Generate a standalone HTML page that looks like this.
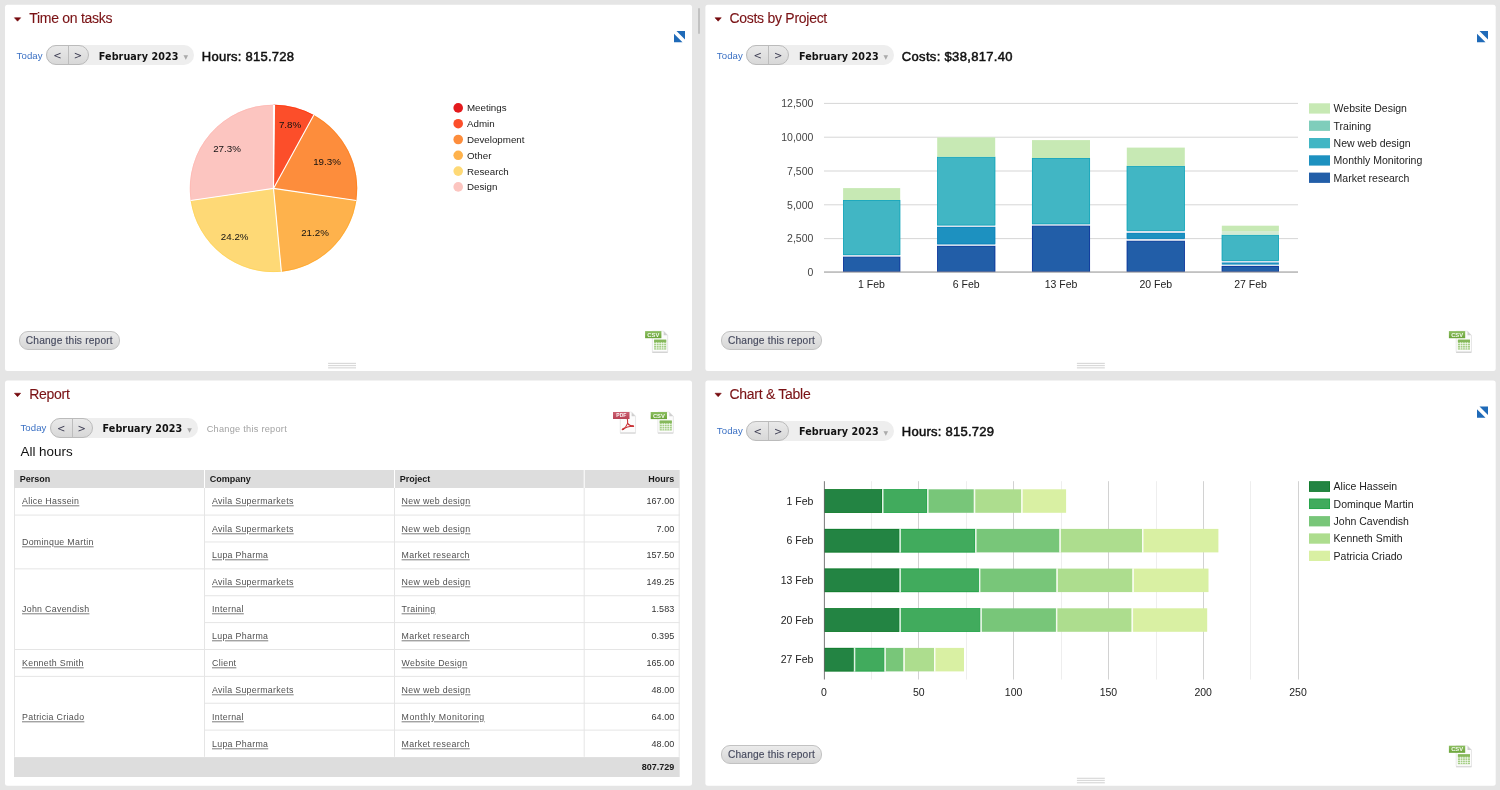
<!DOCTYPE html>
<html lang="en"><head><meta charset="utf-8"><title>Dashboard</title>
<style>
*{box-sizing:border-box}
html,body{margin:0;padding:0}
body{width:1500px;height:790px;overflow:hidden;background:#e5e5e5;font-family:"Liberation Sans",Arial,sans-serif;position:relative;color:#222}
.panel{position:absolute;background:#fff;border-radius:2.5px}
.ttl{position:absolute;color:#7a1215;font-size:14px;line-height:16px;white-space:nowrap;letter-spacing:-0.27px;-webkit-text-stroke:0.12px #7a1215}
.today{position:absolute;color:#3a70c4;font-size:9.6px;line-height:12px;letter-spacing:0.1px;white-space:nowrap}
.pill{position:absolute;height:20.2px;background:#eeeeee;border-radius:10.1px;width:148px}
.seg{position:absolute;display:flex;justify-content:space-between;width:43px;height:20px;border:1px solid #bbbbbb;border-radius:10px;background:linear-gradient(#e9e9e9,#d8d8d8);overflow:hidden}
.sb{position:relative;top:1.2px;width:20.5px;height:18px;text-align:center;font-size:10px;line-height:18.5px;color:#3c3c52;font-family:"DejaVu Sans","Liberation Sans",sans-serif}
.dv{position:absolute;left:20.5px;top:0;width:1px;height:18px;background:#bdbdbd}
.month{position:absolute;font-family:"DejaVu Sans","Liberation Sans",sans-serif;font-weight:bold;font-size:9.6px;color:#111;line-height:13px;letter-spacing:0.08px;white-space:nowrap}
.dd{position:absolute;font-size:6px;line-height:6px;color:#aaa;font-family:"DejaVu Sans",sans-serif}
.tot{position:absolute;font-size:13px;color:#111;white-space:nowrap;line-height:16px;-webkit-text-stroke:0.5px #111;letter-spacing:0.26px}
.btn{position:absolute;width:100.6px;height:19.4px;border:1px solid #c2c2c2;border-radius:9px;background:linear-gradient(#ebebeb,#d6d6d6);font-size:10.2px;line-height:17.6px;text-align:center;color:#464a5e;white-space:nowrap;letter-spacing:0.18px;-webkit-text-stroke:0.15px #464a5e}
.ico{position:absolute;overflow:visible}
.hd{position:absolute;width:28px;height:7px}
.hd i{position:absolute;left:0;width:28px;height:1px}
.vh{position:absolute;left:698px;top:8px;width:2px;height:26px;background:#c2c2c2;border-radius:1px}
svg.chart{position:absolute;left:0;top:0}
.ct{font-family:"Liberation Sans",Arial,sans-serif;font-size:9.75px}
.cb{font-family:"Liberation Sans",Arial,sans-serif;font-size:10.5px}
.lnk{position:absolute;color:#a2a2a2;font-size:9.2px;white-space:nowrap;letter-spacing:0.26px;line-height:12px}
.h2{position:absolute;font-size:13.4px;color:#111;white-space:nowrap;line-height:16px}
.th{position:absolute;background:#dddddd}
.vl{position:absolute;width:1px;background:#e6e6e6}
.vl.w{background:#fff}
.hl{position:absolute;height:1px;background:#e6e6e6}
.ht{position:absolute;font-size:9px;font-weight:bold;color:#1a1a1a;line-height:12px;white-space:nowrap}
.td{position:absolute;font-size:8.8px;color:#505050;line-height:12px;white-space:nowrap;letter-spacing:0.31px}
.td a{display:inline-block;transform:translateY(0.3px);text-decoration:underline;text-underline-offset:1px;text-decoration-thickness:1px;text-decoration-color:#7c7c7c}
.td.n{color:#333;letter-spacing:0.02px;font-size:9px}
.td.w{letter-spacing:0.49px}
</style></head>
<body>
<div class="vh"></div>

<svg class="chart" width="1500" height="790" viewBox="0 0 1500 790">
<defs>
<linearGradient id="gcsv" x1="0" y1="0" x2="0" y2="1"><stop offset="0" stop-color="#8dbf62"/><stop offset="1" stop-color="#6aa438"/></linearGradient>
<linearGradient id="gpdf" x1="0" y1="0" x2="0" y2="1"><stop offset="0" stop-color="#cb6172"/><stop offset="1" stop-color="#b84356"/></linearGradient>
</defs>
<rect x="5" y="4.7" width="687" height="366.3" rx="2.5" fill="#fff"/>
<rect x="705.4" y="4.7" width="790.3" height="366.3" rx="2.5" fill="#fff"/>
<rect x="5" y="380.4" width="687" height="405.3" rx="2.5" fill="#fff"/>
<rect x="705.4" y="380.4" width="790.3" height="405.3" rx="2.5" fill="#fff"/>
<path d="M273.5,188.4L273.50,104.70A83.7,83.7 0 0 1 274.55,104.71Z" fill="#e31a1c"/>
<path d="M273.50,105.15A83.25,83.25 0 0 1 274.55,105.16" fill="none" stroke="#e00000" stroke-width="0.7" opacity="0.8"/>
<path d="M273.5,188.4L274.55,104.71A83.7,83.7 0 0 1 313.82,115.05Z" fill="#fc4e2a"/>
<path d="M274.55,105.16A83.25,83.25 0 0 1 313.61,115.45" fill="none" stroke="#ff2a00" stroke-width="0.7" opacity="0.8"/>
<path d="M273.5,188.4L313.82,115.05A83.7,83.7 0 0 1 356.33,200.45Z" fill="#fd8d3c"/>
<path d="M313.61,115.45A83.25,83.25 0 0 1 355.88,200.39" fill="none" stroke="#ff7d14" stroke-width="0.7" opacity="0.8"/>
<path d="M273.5,188.4L356.33,200.45A83.7,83.7 0 0 1 281.38,271.73Z" fill="#feb24c"/>
<path d="M355.88,200.39A83.25,83.25 0 0 1 281.33,271.28" fill="none" stroke="#ffa51e" stroke-width="0.7" opacity="0.8"/>
<path d="M273.5,188.4L281.38,271.73A83.7,83.7 0 0 1 190.67,200.45Z" fill="#fed976"/>
<path d="M281.33,271.28A83.25,83.25 0 0 1 191.12,200.39" fill="none" stroke="#ffd250" stroke-width="0.7" opacity="0.8"/>
<path d="M273.5,188.4L190.67,200.45A83.7,83.7 0 0 1 273.50,104.70Z" fill="#fcc5c0"/>
<path d="M191.12,200.39A83.25,83.25 0 0 1 273.50,105.15" fill="none" stroke="#ffb4ae" stroke-width="0.7" opacity="0.8"/>
<path d="M273.5,188.4L273.50,104.70" stroke="#fff" stroke-width="1.1" fill="none"/>
<path d="M273.5,188.4L274.55,104.71" stroke="#fff" stroke-width="1.1" fill="none"/>
<path d="M273.5,188.4L313.82,115.05" stroke="#fff" stroke-width="1.1" fill="none"/>
<path d="M273.5,188.4L356.33,200.45" stroke="#fff" stroke-width="1.1" fill="none"/>
<path d="M273.5,188.4L281.38,271.73" stroke="#fff" stroke-width="1.1" fill="none"/>
<path d="M273.5,188.4L190.67,200.45" stroke="#fff" stroke-width="1.1" fill="none"/>
<text x="290" y="128" text-anchor="middle" class="ct" fill="#111">7.8%</text>
<text x="327" y="165" text-anchor="middle" class="ct" fill="#111">19.3%</text>
<text x="315" y="236" text-anchor="middle" class="ct" fill="#111">21.2%</text>
<text x="234.7" y="240" text-anchor="middle" class="ct" fill="#111">24.2%</text>
<text x="227" y="152" text-anchor="middle" class="ct" fill="#111">27.3%</text>
<circle cx="458.2" cy="107.9" r="4.8" fill="#e31a1c"/>
<text x="467" y="111" class="ct" fill="#222">Meetings</text>
<circle cx="458.2" cy="123.7" r="4.8" fill="#fc4e2a"/>
<text x="467" y="127" class="ct" fill="#222">Admin</text>
<circle cx="458.2" cy="139.5" r="4.8" fill="#fd8d3c"/>
<text x="467" y="143" class="ct" fill="#222">Development</text>
<circle cx="458.2" cy="155.3" r="4.8" fill="#feb24c"/>
<text x="467" y="159" class="ct" fill="#222">Other</text>
<circle cx="458.2" cy="171.1" r="4.8" fill="#fed976"/>
<text x="467" y="175" class="ct" fill="#222">Research</text>
<circle cx="458.2" cy="186.9" r="4.8" fill="#fcc5c0"/>
<text x="467" y="190" class="ct" fill="#222">Design</text>
<text x="813.4" y="276.1" text-anchor="end" class="cb" fill="#444">0</text>
<rect x="824.0" y="238.1" width="474.0" height="1" fill="#d6d6d6"/>
<text x="813.4" y="242.3" text-anchor="end" class="cb" fill="#444">2,500</text>
<rect x="824.0" y="204.3" width="474.0" height="1" fill="#d6d6d6"/>
<text x="813.4" y="208.5" text-anchor="end" class="cb" fill="#444">5,000</text>
<rect x="824.0" y="170.5" width="474.0" height="1" fill="#d6d6d6"/>
<text x="813.4" y="174.7" text-anchor="end" class="cb" fill="#444">7,500</text>
<rect x="824.0" y="136.7" width="474.0" height="1" fill="#d6d6d6"/>
<text x="813.4" y="140.9" text-anchor="end" class="cb" fill="#444">10,000</text>
<rect x="824.0" y="102.9" width="474.0" height="1" fill="#d6d6d6"/>
<text x="813.4" y="107.1" text-anchor="end" class="cb" fill="#444">12,500</text>
<rect x="843.1" y="256.6" width="57.1" height="15.4" fill="#225ea8"/>
<rect x="843.4" y="256.9" width="56.5" height="14.8" fill="none" stroke="#0a2f9a" stroke-width="0.7"/>
<rect x="843.1" y="255.0" width="57.1" height="1.6" fill="#dbe3ee"/>
<rect x="843.1" y="200.0" width="57.1" height="55.0" fill="#41b6c4"/>
<rect x="843.4" y="200.3" width="56.5" height="54.4" fill="none" stroke="#0fa4ba" stroke-width="0.7"/>
<rect x="843.1" y="188.1" width="57.1" height="11.9" fill="#c7e9b4"/>
<text x="871.4" y="288.3" text-anchor="middle" class="cb" fill="#222">1 Feb</text>
<rect x="937.2" y="245.8" width="58.0" height="26.2" fill="#225ea8"/>
<rect x="937.5" y="246.1" width="57.4" height="25.6" fill="none" stroke="#0a2f9a" stroke-width="0.7"/>
<rect x="937.2" y="244.2" width="58.0" height="1.6" fill="#dbe3ee"/>
<rect x="937.2" y="226.9" width="58.0" height="17.3" fill="#1d91c0"/>
<rect x="937.5" y="227.2" width="57.4" height="16.7" fill="none" stroke="#0880ba" stroke-width="0.7"/>
<rect x="937.2" y="225.3" width="58.0" height="1.6" fill="#dbe3ee"/>
<rect x="937.2" y="156.8" width="58.0" height="68.5" fill="#41b6c4"/>
<rect x="937.5" y="157.1" width="57.4" height="67.9" fill="none" stroke="#0fa4ba" stroke-width="0.7"/>
<rect x="937.2" y="137.4" width="58.0" height="19.4" fill="#c7e9b4"/>
<text x="966.2" y="288.3" text-anchor="middle" class="cb" fill="#222">6 Feb</text>
<rect x="1032.0" y="225.6" width="58.0" height="46.4" fill="#225ea8"/>
<rect x="1032.3" y="225.9" width="57.4" height="45.8" fill="none" stroke="#0a2f9a" stroke-width="0.7"/>
<rect x="1032.0" y="224.1" width="58.0" height="1.5" fill="#dbe3ee"/>
<rect x="1032.0" y="158.0" width="58.0" height="66.1" fill="#41b6c4"/>
<rect x="1032.3" y="158.3" width="57.4" height="65.5" fill="none" stroke="#0fa4ba" stroke-width="0.7"/>
<rect x="1032.0" y="140.1" width="58.0" height="17.9" fill="#c7e9b4"/>
<text x="1061.0" y="288.3" text-anchor="middle" class="cb" fill="#222">13 Feb</text>
<rect x="1126.8" y="240.7" width="58.0" height="31.3" fill="#225ea8"/>
<rect x="1127.1" y="241.0" width="57.4" height="30.7" fill="none" stroke="#0a2f9a" stroke-width="0.7"/>
<rect x="1126.8" y="238.8" width="58.0" height="1.9" fill="#dbe3ee"/>
<rect x="1126.8" y="232.8" width="58.0" height="6.0" fill="#1d91c0"/>
<rect x="1127.1" y="233.1" width="57.4" height="5.4" fill="none" stroke="#0880ba" stroke-width="0.7"/>
<rect x="1126.8" y="230.8" width="58.0" height="2.0" fill="#dbe3ee"/>
<rect x="1126.8" y="165.9" width="58.0" height="64.9" fill="#41b6c4"/>
<rect x="1127.1" y="166.2" width="57.4" height="64.3" fill="none" stroke="#0fa4ba" stroke-width="0.7"/>
<rect x="1126.8" y="147.6" width="58.0" height="18.3" fill="#c7e9b4"/>
<text x="1155.8" y="288.3" text-anchor="middle" class="cb" fill="#222">20 Feb</text>
<rect x="1221.8" y="266.0" width="57.1" height="6.0" fill="#225ea8"/>
<rect x="1222.1" y="266.3" width="56.5" height="5.4" fill="none" stroke="#0a2f9a" stroke-width="0.7"/>
<rect x="1221.8" y="264.6" width="57.1" height="1.4" fill="#dbe3ee"/>
<rect x="1221.8" y="262.3" width="57.1" height="2.3" fill="#1d91c0"/>
<rect x="1221.8" y="260.9" width="57.1" height="1.4" fill="#dbe3ee"/>
<rect x="1221.8" y="234.8" width="57.1" height="26.1" fill="#41b6c4"/>
<rect x="1222.1" y="235.1" width="56.5" height="25.5" fill="none" stroke="#0fa4ba" stroke-width="0.7"/>
<rect x="1221.8" y="231.1" width="57.1" height="3.7" fill="#d3ebd3"/>
<rect x="1221.8" y="225.7" width="57.1" height="5.4" fill="#c7e9b4"/>
<text x="1250.6" y="288.3" text-anchor="middle" class="cb" fill="#222">27 Feb</text>
<rect x="824.0" y="271.5" width="474.0" height="1.1" fill="#999"/>
<rect x="1309" y="103.3" width="21" height="10.3" fill="#c7e9b4"/>
<text x="1333.6" y="112.3" class="cb" fill="#222">Website Design</text>
<rect x="1309" y="120.6" width="21" height="10.3" fill="#7fcdbb"/>
<text x="1333.6" y="129.6" class="cb" fill="#222">Training</text>
<rect x="1309" y="138.0" width="21" height="10.3" fill="#41b6c4"/>
<text x="1333.6" y="147.0" class="cb" fill="#222">New web design</text>
<rect x="1309" y="155.3" width="21" height="10.3" fill="#1d91c0"/>
<text x="1333.6" y="164.3" class="cb" fill="#222">Monthly Monitoring</text>
<rect x="1309" y="172.6" width="21" height="10.3" fill="#225ea8"/>
<text x="1333.6" y="181.6" class="cb" fill="#222">Market research</text>
<rect x="871" y="481.2" width="1" height="198.3" fill="#eeeeee"/>
<rect x="918" y="481.2" width="1" height="198.3" fill="#d2d2d2"/>
<rect x="966" y="481.2" width="1" height="198.3" fill="#eeeeee"/>
<rect x="1013" y="481.2" width="1" height="198.3" fill="#d2d2d2"/>
<rect x="1061" y="481.2" width="1" height="198.3" fill="#eeeeee"/>
<rect x="1108" y="481.2" width="1" height="198.3" fill="#d2d2d2"/>
<rect x="1156" y="481.2" width="1" height="198.3" fill="#eeeeee"/>
<rect x="1203" y="481.2" width="1" height="198.3" fill="#d2d2d2"/>
<rect x="1250" y="481.2" width="1" height="198.3" fill="#eeeeee"/>
<rect x="1298" y="481.2" width="1" height="198.3" fill="#d2d2d2"/>
<text x="824.0" y="695.6" text-anchor="middle" class="cb" fill="#222">0</text>
<text x="918.8" y="695.6" text-anchor="middle" class="cb" fill="#222">50</text>
<text x="1013.6" y="695.6" text-anchor="middle" class="cb" fill="#222">100</text>
<text x="1108.4" y="695.6" text-anchor="middle" class="cb" fill="#222">150</text>
<text x="1203.2" y="695.6" text-anchor="middle" class="cb" fill="#222">200</text>
<text x="1298.0" y="695.6" text-anchor="middle" class="cb" fill="#222">250</text>
<rect x="824.0" y="489.3" width="58.1" height="23.5" fill="#238443"/>
<rect x="824.35" y="489.63" width="57.4" height="22.8" fill="none" stroke="#0c7a26" stroke-width="0.7"/>
<rect x="882.1" y="489.3" width="45.1" height="23.5" fill="#41ab5d"/>
<rect x="882.45" y="489.63" width="44.4" height="22.8" fill="none" stroke="#1ea446" stroke-width="0.7"/>
<rect x="927.2" y="489.3" width="46.7" height="23.5" fill="#78c679"/>
<rect x="973.9" y="489.3" width="47.4" height="23.5" fill="#addd8e"/>
<rect x="1021.3" y="489.3" width="44.8" height="23.5" fill="#d9f0a3"/>
<rect x="882.0" y="489.1" width="1.5" height="23.9" fill="#fff" opacity="0.85"/>
<rect x="927.1" y="489.1" width="1.5" height="23.9" fill="#fff" opacity="0.85"/>
<rect x="973.8" y="489.1" width="1.5" height="23.9" fill="#fff" opacity="0.85"/>
<rect x="1021.2" y="489.1" width="1.5" height="23.9" fill="#fff" opacity="0.85"/>
<text x="813.4" y="504.7" text-anchor="end" class="cb" fill="#222">1 Feb</text>
<rect x="824.0" y="528.9" width="75.5" height="23.5" fill="#238443"/>
<rect x="824.35" y="529.29" width="74.8" height="22.8" fill="none" stroke="#0c7a26" stroke-width="0.7"/>
<rect x="899.5" y="528.9" width="75.7" height="23.5" fill="#41ab5d"/>
<rect x="899.85" y="529.29" width="75.0" height="22.8" fill="none" stroke="#1ea446" stroke-width="0.7"/>
<rect x="975.2" y="528.9" width="84.3" height="23.5" fill="#78c679"/>
<rect x="1059.5" y="528.9" width="82.6" height="23.5" fill="#addd8e"/>
<rect x="1142.1" y="528.9" width="76.3" height="23.5" fill="#d9f0a3"/>
<rect x="899.4" y="528.7" width="1.5" height="23.9" fill="#fff" opacity="0.85"/>
<rect x="975.1" y="528.7" width="1.5" height="23.9" fill="#fff" opacity="0.85"/>
<rect x="1059.4" y="528.7" width="1.5" height="23.9" fill="#fff" opacity="0.85"/>
<rect x="1142.0" y="528.7" width="1.5" height="23.9" fill="#fff" opacity="0.85"/>
<text x="813.4" y="544.4" text-anchor="end" class="cb" fill="#222">6 Feb</text>
<rect x="824.0" y="568.6" width="75.5" height="23.5" fill="#238443"/>
<rect x="824.35" y="568.95" width="74.8" height="22.8" fill="none" stroke="#0c7a26" stroke-width="0.7"/>
<rect x="899.5" y="568.6" width="79.5" height="23.5" fill="#41ab5d"/>
<rect x="899.85" y="568.95" width="78.8" height="22.8" fill="none" stroke="#1ea446" stroke-width="0.7"/>
<rect x="979.0" y="568.6" width="77.5" height="23.5" fill="#78c679"/>
<rect x="1056.5" y="568.6" width="76.0" height="23.5" fill="#addd8e"/>
<rect x="1132.5" y="568.6" width="76.0" height="23.5" fill="#d9f0a3"/>
<rect x="899.4" y="568.4" width="1.5" height="23.9" fill="#fff" opacity="0.85"/>
<rect x="978.9" y="568.4" width="1.5" height="23.9" fill="#fff" opacity="0.85"/>
<rect x="1056.4" y="568.4" width="1.5" height="23.9" fill="#fff" opacity="0.85"/>
<rect x="1132.4" y="568.4" width="1.5" height="23.9" fill="#fff" opacity="0.85"/>
<text x="813.4" y="584.1" text-anchor="end" class="cb" fill="#222">13 Feb</text>
<rect x="824.0" y="608.3" width="75.5" height="23.5" fill="#238443"/>
<rect x="824.35" y="608.61" width="74.8" height="22.8" fill="none" stroke="#0c7a26" stroke-width="0.7"/>
<rect x="899.5" y="608.3" width="81.0" height="23.5" fill="#41ab5d"/>
<rect x="899.85" y="608.61" width="80.3" height="22.8" fill="none" stroke="#1ea446" stroke-width="0.7"/>
<rect x="980.5" y="608.3" width="75.5" height="23.5" fill="#78c679"/>
<rect x="1056.0" y="608.3" width="75.7" height="23.5" fill="#addd8e"/>
<rect x="1131.7" y="608.3" width="75.5" height="23.5" fill="#d9f0a3"/>
<rect x="899.4" y="608.1" width="1.5" height="23.9" fill="#fff" opacity="0.85"/>
<rect x="980.4" y="608.1" width="1.5" height="23.9" fill="#fff" opacity="0.85"/>
<rect x="1055.9" y="608.1" width="1.5" height="23.9" fill="#fff" opacity="0.85"/>
<rect x="1131.6" y="608.1" width="1.5" height="23.9" fill="#fff" opacity="0.85"/>
<text x="813.4" y="623.7" text-anchor="end" class="cb" fill="#222">20 Feb</text>
<rect x="824.0" y="647.9" width="29.9" height="23.5" fill="#238443"/>
<rect x="824.35" y="648.27" width="29.2" height="22.8" fill="none" stroke="#0c7a26" stroke-width="0.7"/>
<rect x="853.9" y="647.9" width="30.6" height="23.5" fill="#41ab5d"/>
<rect x="854.25" y="648.27" width="29.9" height="22.8" fill="none" stroke="#1ea446" stroke-width="0.7"/>
<rect x="884.5" y="647.9" width="19.0" height="23.5" fill="#78c679"/>
<rect x="903.5" y="647.9" width="30.6" height="23.5" fill="#addd8e"/>
<rect x="934.1" y="647.9" width="29.9" height="23.5" fill="#d9f0a3"/>
<rect x="853.8" y="647.7" width="1.5" height="23.9" fill="#fff" opacity="0.85"/>
<rect x="884.4" y="647.7" width="1.5" height="23.9" fill="#fff" opacity="0.85"/>
<rect x="903.4" y="647.7" width="1.5" height="23.9" fill="#fff" opacity="0.85"/>
<rect x="934.0" y="647.7" width="1.5" height="23.9" fill="#fff" opacity="0.85"/>
<text x="813.4" y="663.4" text-anchor="end" class="cb" fill="#222">27 Feb</text>
<rect x="823.9" y="481.2" width="0.9" height="198.3" fill="#6a6a6a"/>
<rect x="1309" y="481.4" width="21" height="10.3" fill="#238443"/>
<rect x="1309.35" y="481.75" width="20.3" height="9.6" fill="none" stroke="#0c7a26" stroke-width="0.7"/>
<text x="1333.6" y="490.4" class="cb" fill="#222">Alice Hassein</text>
<rect x="1309" y="498.7" width="21" height="10.3" fill="#41ab5d"/>
<rect x="1309.35" y="499.08" width="20.3" height="9.6" fill="none" stroke="#1ea446" stroke-width="0.7"/>
<text x="1333.6" y="507.7" class="cb" fill="#222">Dominque Martin</text>
<rect x="1309" y="516.1" width="21" height="10.3" fill="#78c679"/>
<text x="1333.6" y="525.1" class="cb" fill="#222">John Cavendish</text>
<rect x="1309" y="533.4" width="21" height="10.3" fill="#addd8e"/>
<text x="1333.6" y="542.4" class="cb" fill="#222">Kenneth Smith</text>
<rect x="1309" y="550.7" width="21" height="10.3" fill="#d9f0a3"/>
<text x="1333.6" y="559.7" class="cb" fill="#222">Patricia Criado</text>
<rect x="14.0" y="470.0" width="665.7" height="18.0" fill="#dddddd"/>
<rect x="204.0" y="470.0" width="1" height="18.0" fill="#fff"/>
<rect x="394.0" y="470.0" width="1" height="18.0" fill="#fff"/>
<rect x="583.7" y="470.0" width="1" height="18.0" fill="#fff"/>
<rect x="14.0" y="488.0" width="1" height="268.80" fill="#e5e5e5"/>
<rect x="204.0" y="488.0" width="1" height="268.80" fill="#e5e5e5"/>
<rect x="394.0" y="488.0" width="1" height="268.80" fill="#e5e5e5"/>
<rect x="583.7" y="488.0" width="1" height="268.80" fill="#e5e5e5"/>
<rect x="678.7" y="488.0" width="1" height="268.80" fill="#e5e5e5"/>
<rect x="14.0" y="514.58" width="665.7" height="1" fill="#e5e5e5"/>
<rect x="204.0" y="541.46" width="475.7" height="1" fill="#e5e5e5"/>
<rect x="14.0" y="568.34" width="665.7" height="1" fill="#e5e5e5"/>
<rect x="204.0" y="595.22" width="475.7" height="1" fill="#e5e5e5"/>
<rect x="204.0" y="622.10" width="475.7" height="1" fill="#e5e5e5"/>
<rect x="14.0" y="648.98" width="665.7" height="1" fill="#e5e5e5"/>
<rect x="14.0" y="675.86" width="665.7" height="1" fill="#e5e5e5"/>
<rect x="204.0" y="702.74" width="475.7" height="1" fill="#e5e5e5"/>
<rect x="204.0" y="729.62" width="475.7" height="1" fill="#e5e5e5"/>
<rect x="14.0" y="757.10" width="665.7" height="19.9" fill="#dddddd"/>
</svg>

<svg class="ico" style="left:13px;top:16px" width="10" height="7" viewBox="0 0 10 7"><g transform="translate(0.70,0.90)"><path d="M0.75 0.85H6.95L3.85 4.3Z" fill="#760a0d" stroke="#760a0d" stroke-width="0.6" stroke-linejoin="round"/></g></svg><div class="ttl" style="left:29.2px;top:9.7px">Time on tasks</div>
<svg class="ico" style="left:714px;top:16px" width="10" height="7" viewBox="0 0 10 7"><g transform="translate(0.30,0.90)"><path d="M0.75 0.85H6.95L3.85 4.3Z" fill="#760a0d" stroke="#760a0d" stroke-width="0.6" stroke-linejoin="round"/></g></svg><div class="ttl" style="left:729.4px;top:9.7px">Costs by Project</div>
<svg class="ico" style="left:13px;top:392px" width="10" height="7" viewBox="0 0 10 7"><g transform="translate(0.70,0.40)"><path d="M0.75 0.85H6.95L3.85 4.3Z" fill="#760a0d" stroke="#760a0d" stroke-width="0.6" stroke-linejoin="round"/></g></svg><div class="ttl" style="left:29.2px;top:385.7px">Report</div>
<svg class="ico" style="left:714px;top:392px" width="10" height="7" viewBox="0 0 10 7"><g transform="translate(0.30,0.40)"><path d="M0.75 0.85H6.95L3.85 4.3Z" fill="#760a0d" stroke="#760a0d" stroke-width="0.6" stroke-linejoin="round"/></g></svg><div class="ttl" style="left:729.4px;top:385.7px">Chart &amp; Table</div>

<div class="today" style="left:16.6px;top:49.8px">Today</div>
<div class="pill" style="left:46.2px;top:45px"></div>
<div class="seg" style="left:46.2px;top:45px"><span class="sb">&lt;</span><span class="sb">&gt;</span><i class="dv"></i></div>
<div class="month" style="left:98.8px;top:49.8px">February 2023</div>
<div class="dd" style="left:183.4px;top:54.0px">&#9660;</div>
<div class="tot" style="left:201.8px;top:48.9px">Hours: 815.728</div>
<div class="today" style="left:716.8px;top:49.8px">Today</div>
<div class="pill" style="left:746.4px;top:45px"></div>
<div class="seg" style="left:746.4px;top:45px"><span class="sb">&lt;</span><span class="sb">&gt;</span><i class="dv"></i></div>
<div class="month" style="left:799.0px;top:49.8px">February 2023</div>
<div class="dd" style="left:883.6px;top:54.0px">&#9660;</div>
<div class="tot" style="left:901.8px;top:48.9px;letter-spacing:0.33px">Costs: $38,817.40</div>
<div class="today" style="left:20.4px;top:421.9px">Today</div>
<div class="pill" style="left:50.0px;top:417.7px"></div>
<div class="seg" style="left:50.0px;top:417.7px"><span class="sb">&lt;</span><span class="sb">&gt;</span><i class="dv"></i></div>
<div class="month" style="left:102.6px;top:421.9px">February 2023</div>
<div class="dd" style="left:187.2px;top:426.7px">&#9660;</div>
<div class="lnk" style="left:206.7px;top:422.9px">Change this report</div>
<div class="today" style="left:716.8px;top:425.4px">Today</div>
<div class="pill" style="left:746.4px;top:420.6px"></div>
<div class="seg" style="left:746.4px;top:420.6px"><span class="sb">&lt;</span><span class="sb">&gt;</span><i class="dv"></i></div>
<div class="month" style="left:799.0px;top:425.4px">February 2023</div>
<div class="dd" style="left:883.6px;top:429.6px">&#9660;</div>
<div class="tot" style="left:901.8px;top:424.3px">Hours: 815.729</div>

<div class="h2" style="left:20.5px;top:444px">All hours</div>
<div class="ht" style="left:19.7px;top:472.6px">Person</div>
<div class="ht" style="left:209.7px;top:472.6px">Company</div>
<div class="ht" style="left:399.7px;top:472.6px">Project</div>
<div class="ht" style="right:825.8px;top:472.6px">Hours</div>
<div class="td" style="left:22px;top:494.95px"><a>Alice Hassein</a></div>
<div class="td" style="left:212px;top:494.95px"><a>Avila Supermarkets</a></div>
<div class="td" style="left:401.6px;top:494.95px"><a>New web design</a></div>
<div class="td n" style="right:825.8px;top:494.95px">167.00</div>
<div class="td" style="left:22px;top:535.95px"><a>Dominque Martin</a></div>
<div class="td" style="left:212px;top:522.95px"><a>Avila Supermarkets</a></div>
<div class="td" style="left:401.6px;top:522.95px"><a>New web design</a></div>
<div class="td n" style="right:825.8px;top:522.95px">7.00</div>
<div class="td" style="left:212px;top:548.95px"><a>Lupa Pharma</a></div>
<div class="td" style="left:401.6px;top:548.95px"><a>Market research</a></div>
<div class="td n" style="right:825.8px;top:548.95px">157.50</div>
<div class="td" style="left:22px;top:602.95px"><a>John Cavendish</a></div>
<div class="td" style="left:212px;top:575.95px"><a>Avila Supermarkets</a></div>
<div class="td" style="left:401.6px;top:575.95px"><a>New web design</a></div>
<div class="td n" style="right:825.8px;top:575.95px">149.25</div>
<div class="td" style="left:212px;top:602.95px"><a>Internal</a></div>
<div class="td" style="left:401.6px;top:602.95px"><a>Training</a></div>
<div class="td n" style="right:825.8px;top:602.95px">1.583</div>
<div class="td" style="left:212px;top:629.95px"><a>Lupa Pharma</a></div>
<div class="td" style="left:401.6px;top:629.95px"><a>Market research</a></div>
<div class="td n" style="right:825.8px;top:629.95px">0.395</div>
<div class="td" style="left:22px;top:656.95px"><a>Kenneth Smith</a></div>
<div class="td" style="left:212px;top:656.95px"><a>Client</a></div>
<div class="td" style="left:401.6px;top:656.95px"><a>Website Design</a></div>
<div class="td n" style="right:825.8px;top:656.95px">165.00</div>
<div class="td" style="left:22px;top:710.95px"><a>Patricia Criado</a></div>
<div class="td" style="left:212px;top:683.95px"><a>Avila Supermarkets</a></div>
<div class="td" style="left:401.6px;top:683.95px"><a>New web design</a></div>
<div class="td n" style="right:825.8px;top:683.95px">48.00</div>
<div class="td" style="left:212px;top:710.95px"><a>Internal</a></div>
<div class="td w" style="left:401.6px;top:710.95px"><a>Monthly Monitoring</a></div>
<div class="td n" style="right:825.8px;top:710.95px">64.00</div>
<div class="td" style="left:212px;top:737.95px"><a>Lupa Pharma</a></div>
<div class="td" style="left:401.6px;top:737.95px"><a>Market research</a></div>
<div class="td n" style="right:825.8px;top:737.95px">48.00</div>
<div class="ht" style="right:825.8px;top:761.30px">807.729</div>

<svg class="ico" style="left:674px;top:31px" width="13" height="13" viewBox="0 0 13 13"><g transform="translate(0.00,0.00)"><path d="M2.5 0H11V8.5Z" fill="#1f6ab8"/><path d="M0 2.7V11.2H8.5Z" fill="#1f6ab8"/></g></svg>
<svg class="ico" style="left:1477px;top:31px" width="13" height="13" viewBox="0 0 13 13"><g transform="translate(0.00,0.00)"><path d="M2.5 0H11V8.5Z" fill="#1f6ab8"/><path d="M0 2.7V11.2H8.5Z" fill="#1f6ab8"/></g></svg>
<svg class="ico" style="left:1477px;top:406px" width="13" height="13" viewBox="0 0 13 13"><g transform="translate(0.00,0.50)"><path d="M2.5 0H11V8.5Z" fill="#1f6ab8"/><path d="M0 2.7V11.2H8.5Z" fill="#1f6ab8"/></g></svg>

<div class="btn" style="left:19px;top:330.6px">Change this report</div>
<div class="btn" style="left:721.2px;top:330.6px">Change this report</div>
<div class="btn" style="left:721.2px;top:745px">Change this report</div>

<svg class="ico" style="left:645px;top:331px" width="26" height="24" viewBox="0 0 26 24"><g transform="translate(0.10,0.10)"><path d="M7.2 0.2H18.6L22.6 4.3V21.6H7.2Z" fill="#c4c4c4"/><path d="M7.2 0H18.6L22.6 4.2V20.6H7.2Z" fill="#fcfcfc" stroke="#e3e3e3" stroke-width="0.6"/><path d="M18.6 0.2V4.2H22.5Z" fill="#cfcfcf"/><rect x="9" y="8.6" width="12.1" height="9.9" fill="#a3cd83"/><rect x="9" y="8.6" width="12.1" height="2.4" fill="#86b85b"/><rect x="11.12" y="11.1" width="0.65" height="7.4" fill="#fff" opacity="0.9"/><rect x="13.54" y="11.1" width="0.65" height="7.4" fill="#fff" opacity="0.9"/><rect x="15.96" y="11.1" width="0.65" height="7.4" fill="#fff" opacity="0.9"/><rect x="18.38" y="11.1" width="0.65" height="7.4" fill="#fff" opacity="0.9"/><rect x="9" y="12.00" width="12.1" height="0.65" fill="#fff" opacity="0.9"/><rect x="9" y="14.25" width="12.1" height="0.65" fill="#fff" opacity="0.9"/><rect x="9" y="16.50" width="12.1" height="0.65" fill="#fff" opacity="0.9"/><rect x="0" y="0" width="16.3" height="7.1" fill="url(#gcsv)"/><text x="8.2" y="5.7" text-anchor="middle" font-family="'Liberation Sans',sans-serif" font-weight="bold" font-size="5.8" fill="#fff" opacity="0.92">CSV</text></g></svg>
<svg class="ico" style="left:1448px;top:331px" width="26" height="24" viewBox="0 0 26 24"><g transform="translate(0.90,0.10)"><path d="M7.2 0.2H18.6L22.6 4.3V21.6H7.2Z" fill="#c4c4c4"/><path d="M7.2 0H18.6L22.6 4.2V20.6H7.2Z" fill="#fcfcfc" stroke="#e3e3e3" stroke-width="0.6"/><path d="M18.6 0.2V4.2H22.5Z" fill="#cfcfcf"/><rect x="9" y="8.6" width="12.1" height="9.9" fill="#a3cd83"/><rect x="9" y="8.6" width="12.1" height="2.4" fill="#86b85b"/><rect x="11.12" y="11.1" width="0.65" height="7.4" fill="#fff" opacity="0.9"/><rect x="13.54" y="11.1" width="0.65" height="7.4" fill="#fff" opacity="0.9"/><rect x="15.96" y="11.1" width="0.65" height="7.4" fill="#fff" opacity="0.9"/><rect x="18.38" y="11.1" width="0.65" height="7.4" fill="#fff" opacity="0.9"/><rect x="9" y="12.00" width="12.1" height="0.65" fill="#fff" opacity="0.9"/><rect x="9" y="14.25" width="12.1" height="0.65" fill="#fff" opacity="0.9"/><rect x="9" y="16.50" width="12.1" height="0.65" fill="#fff" opacity="0.9"/><rect x="0" y="0" width="16.3" height="7.1" fill="url(#gcsv)"/><text x="8.2" y="5.7" text-anchor="middle" font-family="'Liberation Sans',sans-serif" font-weight="bold" font-size="5.8" fill="#fff" opacity="0.92">CSV</text></g></svg>
<svg class="ico" style="left:1448px;top:745px" width="26" height="24" viewBox="0 0 26 24"><g transform="translate(0.90,0.70)"><path d="M7.2 0.2H18.6L22.6 4.3V21.6H7.2Z" fill="#c4c4c4"/><path d="M7.2 0H18.6L22.6 4.2V20.6H7.2Z" fill="#fcfcfc" stroke="#e3e3e3" stroke-width="0.6"/><path d="M18.6 0.2V4.2H22.5Z" fill="#cfcfcf"/><rect x="9" y="8.6" width="12.1" height="9.9" fill="#a3cd83"/><rect x="9" y="8.6" width="12.1" height="2.4" fill="#86b85b"/><rect x="11.12" y="11.1" width="0.65" height="7.4" fill="#fff" opacity="0.9"/><rect x="13.54" y="11.1" width="0.65" height="7.4" fill="#fff" opacity="0.9"/><rect x="15.96" y="11.1" width="0.65" height="7.4" fill="#fff" opacity="0.9"/><rect x="18.38" y="11.1" width="0.65" height="7.4" fill="#fff" opacity="0.9"/><rect x="9" y="12.00" width="12.1" height="0.65" fill="#fff" opacity="0.9"/><rect x="9" y="14.25" width="12.1" height="0.65" fill="#fff" opacity="0.9"/><rect x="9" y="16.50" width="12.1" height="0.65" fill="#fff" opacity="0.9"/><rect x="0" y="0" width="16.3" height="7.1" fill="url(#gcsv)"/><text x="8.2" y="5.7" text-anchor="middle" font-family="'Liberation Sans',sans-serif" font-weight="bold" font-size="5.8" fill="#fff" opacity="0.92">CSV</text></g></svg>
<svg class="ico" style="left:613px;top:412px" width="26" height="24" viewBox="0 0 26 24"><g transform="translate(0.00,0.00)"><path d="M7.2 0.2H18.6L22.6 4.3V21.6H7.2Z" fill="#c4c4c4"/><path d="M7.2 0H18.6L22.6 4.2V20.6H7.2Z" fill="#fcfcfc" stroke="#e3e3e3" stroke-width="0.6"/><path d="M18.6 0.2V4.2H22.5Z" fill="#cfcfcf"/><path d="M14.3 6.8C14.7 8.6 14.8 10.2 14.6 11.4C13.6 13.9 11.8 16.4 9.9 17.5" fill="none" stroke="#c92e32" stroke-width="1.05" stroke-linecap="round"/><path d="M14.6 11.4C15.6 13 17.6 14 20.4 14.2" fill="none" stroke="#c92e32" stroke-width="1.05" stroke-linecap="round"/><path d="M10 17.4C12.6 15.3 16.6 14.1 20.4 14.2" fill="none" stroke="#c92e32" stroke-width="1.05" stroke-linecap="round"/><ellipse cx="10.2" cy="17.1" rx="1.6" ry="0.95" transform="rotate(-35 10.1 17.2)" fill="#c93538"/><ellipse cx="19.6" cy="14.2" rx="1.6" ry="0.85" fill="#c93538"/><rect x="0" y="0" width="16.5" height="7" fill="url(#gpdf)"/><text x="8.3" y="5.3" text-anchor="middle" font-family="'Liberation Sans',sans-serif" font-weight="bold" font-size="5" fill="#fff" opacity="0.92">PDF</text></g></svg>
<svg class="ico" style="left:650px;top:412px" width="26" height="24" viewBox="0 0 26 24"><g transform="translate(0.70,0.00)"><path d="M7.2 0.2H18.6L22.6 4.3V21.6H7.2Z" fill="#c4c4c4"/><path d="M7.2 0H18.6L22.6 4.2V20.6H7.2Z" fill="#fcfcfc" stroke="#e3e3e3" stroke-width="0.6"/><path d="M18.6 0.2V4.2H22.5Z" fill="#cfcfcf"/><rect x="9" y="8.6" width="12.1" height="9.9" fill="#a3cd83"/><rect x="9" y="8.6" width="12.1" height="2.4" fill="#86b85b"/><rect x="11.12" y="11.1" width="0.65" height="7.4" fill="#fff" opacity="0.9"/><rect x="13.54" y="11.1" width="0.65" height="7.4" fill="#fff" opacity="0.9"/><rect x="15.96" y="11.1" width="0.65" height="7.4" fill="#fff" opacity="0.9"/><rect x="18.38" y="11.1" width="0.65" height="7.4" fill="#fff" opacity="0.9"/><rect x="9" y="12.00" width="12.1" height="0.65" fill="#fff" opacity="0.9"/><rect x="9" y="14.25" width="12.1" height="0.65" fill="#fff" opacity="0.9"/><rect x="9" y="16.50" width="12.1" height="0.65" fill="#fff" opacity="0.9"/><rect x="0" y="0" width="16.3" height="7.1" fill="url(#gcsv)"/><text x="8.2" y="5.7" text-anchor="middle" font-family="'Liberation Sans',sans-serif" font-weight="bold" font-size="5.8" fill="#fff" opacity="0.92">CSV</text></g></svg>

<svg class="ico" style="left:328px;top:362px" width="30" height="9" viewBox="0 0 30 9"><g transform="translate(0.10,0.40)"><rect x="0" y="0.40" width="27.9" height="1.2" fill="#d9d9d9"/><rect x="0" y="2.55" width="27.9" height="1.2" fill="#d9d9d9"/><rect x="0" y="4.85" width="27.9" height="1.2" fill="#d9d9d9"/></g></svg>
<svg class="ico" style="left:1076px;top:362px" width="30" height="9" viewBox="0 0 30 9"><g transform="translate(0.90,0.40)"><rect x="0" y="0.40" width="27.9" height="1.2" fill="#d9d9d9"/><rect x="0" y="2.55" width="27.9" height="1.2" fill="#d9d9d9"/><rect x="0" y="4.85" width="27.9" height="1.2" fill="#d9d9d9"/></g></svg>
<svg class="ico" style="left:1076px;top:777px" width="30" height="9" viewBox="0 0 30 9"><g transform="translate(0.90,0.30)"><rect x="0" y="0.40" width="27.9" height="1.2" fill="#d9d9d9"/><rect x="0" y="2.55" width="27.9" height="1.2" fill="#d9d9d9"/><rect x="0" y="4.85" width="27.9" height="1.2" fill="#d9d9d9"/></g></svg>
</body></html>
